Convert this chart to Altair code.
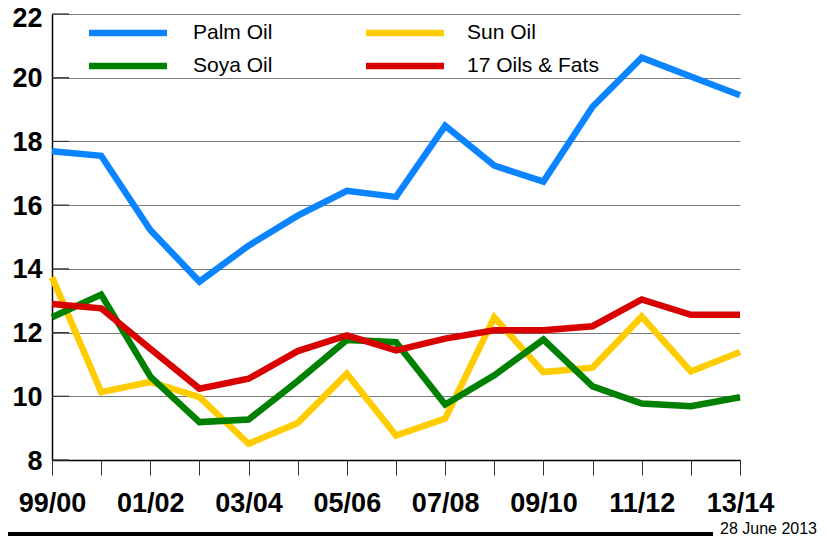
import json
import altair as alt
import pandas as pd

years = ["99/00", "00/01", "01/02", "02/03", "03/04", "04/05", "05/06", "06/07",
         "07/08", "08/09", "09/10", "10/11", "11/12", "12/13", "13/14"]
palm = [17.69, 17.55, 15.22, 13.6, 14.73, 15.67, 16.45, 16.26, 18.49, 17.24, 16.74, 19.09, 20.63, 20.04, 19.45]
sun = [13.74, 10.13, 10.45, 9.97, 8.51, 9.16, 10.71, 8.77, 9.30, 12.48, 10.76, 10.90, 12.50, 10.78, 11.39]
soya = [12.48, 13.19, 10.62, 9.19, 9.27, 10.48, 11.77, 11.70, 9.74, 10.66, 11.78, 10.31, 9.77, 9.69, 9.97]
fats17 = [12.90, 12.76, 11.49, 10.24, 10.55, 11.42, 11.91, 11.44, 11.81, 12.07, 12.07, 12.20, 13.04, 12.56, 12.56]

series_names = ["Palm Oil", "Sun Oil", "Soya Oil", "17 Oils & Fats"]
series_colors = ["#0a84ff", "#ffcc00", "#008000", "#d90000"]
draw_order = ["Sun Oil", "Soya Oil", "17 Oils & Fats", "Palm Oil"]
y_ticks = [8, 10, 12, 14, 16, 18, 20, 22]
shown_labels = years[::2]
footer_text = "28 June 2013"

rows = []
for name, vals in zip(series_names, [palm, sun, soya, fats17]):
    for yr, v in zip(years, vals):
        rows.append({"year": yr, "series": name, "value": v})
df = pd.DataFrame(rows)

FONT = "Liberation Sans"
color_of = dict(zip(series_names, series_colors))

x_enc = alt.X(
    "year:O", sort=years,
    scale=alt.Scale(type="point", padding=0),
    axis=alt.Axis(
        title=None, labelAngle=0,
        labelExpr="indexof(" + json.dumps(shown_labels) + ", datum.value) >= 0 ? datum.value : ''",
        labelFont=FONT, labelFontSize=27, labelFontWeight="bold", labelColor="black",
        tickSize=15, tickColor="#333333", labelPadding=15, domainColor="black",
        domainWidth=1.5, grid=False,
    ),
)
y_enc = alt.Y(
    "value:Q",
    scale=alt.Scale(domain=[8, 22], nice=False, zero=False),
    axis=alt.Axis(
        title=None, values=y_ticks, labelFont=FONT, labelFontSize=27,
        labelFontWeight="bold", labelColor="black", ticks=False, labelPadding=10,
        labelOffset={"expr": "datum.value == 22 ? 4 : 1"},
        grid=True, gridColor="#7a7a7a", gridWidth=1, domainColor="black", domainWidth=1.5,
    ),
)
color_enc = alt.Color(
    "series:N",
    scale=alt.Scale(domain=series_names, range=series_colors),
    legend=None,
)

layers = []
for name in draw_order:
    layers.append(
        alt.Chart(df)
        .transform_filter(alt.datum.series == name)
        .mark_line(strokeWidth=6.5, strokeJoin="miter", strokeCap="butt")
        .encode(x=x_enc, y=y_enc, color=color_enc)
    )

# inner tick marks on the y axis
tick_df = pd.DataFrame({"value": y_ticks})
inner_ticks = alt.Chart(tick_df).mark_rule(color="#333333", strokeWidth=1.2).encode(
    y=alt.Y("value:Q"), x=alt.value(0), x2=alt.value(17)
)

# legend (2 columns x 2 rows, row-major)
legend_layers = []
col_sym_x = [37, 314]
col_txt_x = [141, 415]
row_y = [19, 52]
for i, name in enumerate(series_names):
    r, c = divmod(i, 2)
    ldf = pd.DataFrame({"series": [name]})
    legend_layers.append(
        alt.Chart(ldf).mark_rule(color=color_of[name], strokeWidth=6.5, strokeCap="butt").encode(
            x=alt.value(col_sym_x[c]), x2=alt.value(col_sym_x[c] + 78), y=alt.value(row_y[r])
        )
    )
    legend_layers.append(
        alt.Chart(ldf).mark_text(align="left", baseline="middle", font=FONT, fontSize=21, color="black").encode(
            text="series:N", x=alt.value(col_txt_x[c]), y=alt.value(row_y[r])
        )
    )

foot = pd.DataFrame({"t": [footer_text]})
footer_line = alt.Chart(foot).mark_rule(color="black", strokeWidth=4).encode(
    x=alt.value(-44), x2=alt.value(661), y=alt.value(520)
)
footer_label = alt.Chart(foot).mark_text(
    align="right", baseline="alphabetic", font=FONT, fontSize=16, color="black"
).encode(text="t:N", x=alt.value(765), y=alt.value(520))

chart = (
    alt.layer(inner_ticks, *layers, *legend_layers, footer_line, footer_label)
    .properties(
        width=688, height=446,
        padding={"left": 44, "top": 6, "right": 79, "bottom": 76},
        autosize=alt.AutoSizeParams(type="none"),
    )
    .configure_view(stroke=None)
)

chart.save("out.html", embed_options={"renderer": "svg", "actions": False})
